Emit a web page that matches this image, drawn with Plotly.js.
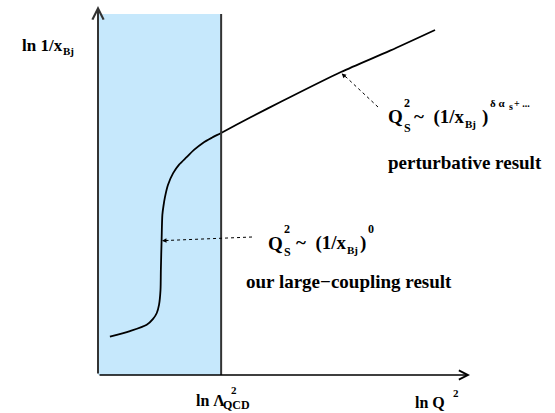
<!DOCTYPE html>
<html>
<head>
<meta charset="utf-8">
<script src="https://cdn.plot.ly/plotly-3.0.1.min.js"></script>
<style>html,body{margin:0;padding:0;background:#fff;}#chart{width:555px;height:413px;}</style>
</head>
<body>
<div id="chart"></div>
<script>
// Schematic saturation-scale curve (arbitrary units: ln Q^2 on x, ln 1/x_Bj on y)
var curveX = [0.32, 0.86, 1.31, 1.48, 1.58, 1.64, 1.68, 1.69, 1.71, 1.73, 1.76, 1.80, 1.88, 2.02, 2.18, 2.39, 2.58, 2.82, 3.06, 3.31, 4.09, 4.89, 6.53, 7.85, 9.06];
var curveY = [1.04, 1.19, 1.36, 1.52, 1.68, 1.90, 2.30, 2.85, 3.66, 4.34, 4.58, 4.82, 5.15, 5.47, 5.70, 5.91, 6.10, 6.29, 6.43, 6.56, 6.98, 7.39, 8.21, 8.79, 9.35];
// Strong-coupling region: from the origin up to ln Lambda_QCD^2
var regionX = [0, 3.31];
var regionTop = 9.78;
var axisMax = [10, 10];

var FONT = 'Liberation Serif, Times New Roman, serif';
var W = 555, H = 413, ML = 98, MR = 85, MT = 6, MB = 38;
var PW = W - ML - MR, PH = H - MT - MB;
function X(px){ return (px - ML) / (PW / axisMax[0]); }
function Y(py){ return (H - MB - py) / (PH / axisMax[1]); }
function XP(px){ return (px - ML) / PW; }
function YP(py){ return (H - MB - py) / PH; }

function lab(text, px, py, size){
  return {text: '<b>' + text + '</b>', x: XP(px), y: YP(py), xref: 'paper', yref: 'paper',
    xanchor: 'left', yanchor: 'middle', showarrow: false,
    font: {family: FONT, size: size, color: '#000'}};
}

var annotations = [
  // axes arrows
  {x: 0, y: axisMax[1], ax: 0, ay: 0, axref: 'x', ayref: 'y', xref: 'x', yref: 'y', text: '',
   showarrow: true, arrowhead: 5, arrowsize: 1.1, arrowwidth: 2, arrowcolor: '#333', standoff: 0},
  {x: axisMax[0], y: 0, ax: 0, ay: 0, axref: 'x', ayref: 'y', xref: 'x', yref: 'y', text: '',
   showarrow: true, arrowhead: 5, arrowsize: 1.2, arrowwidth: 1.5, arrowcolor: '#000', standoff: 0},
  // dotted arrow heads
  {x: curveX[22], y: curveY[22] - 0.02, ax: 6, ay: 5.5, xref: 'x', yref: 'y', text: '', showarrow: true,
   arrowhead: 2, arrowsize: 0.9, arrowwidth: 1, arrowcolor: '#000', standoff: 1},
  {x: X(162), y: Y(240.7), ax: 8, ay: -0.3, xref: 'x', yref: 'y', text: '', showarrow: true,
   arrowhead: 2, arrowsize: 0.9, arrowwidth: 1, arrowcolor: '#000', standoff: 0},
  // y label
  lab('ln 1/x', 20, 45, 17),
  lab('Bj', 61, 51, 11),
  // x labels
  lab('ln \u039b', 194, 400, 16),
  lab('2', 229, 390, 11),
  lab('QCD', 221, 405, 12),
  lab('ln Q', 413, 402, 16),
  lab('2', 451, 393, 11),
  // upper formula
  lab('Q', 386, 117, 19),
  lab('2', 402, 103, 12),
  lab('S', 402, 128, 12),
  lab('~  (1/x', 412, 117, 19),
  lab('Bj', 463, 124, 11),
  lab(')', 480, 117, 19),
  lab('\u03b4 \u03b1', 488, 103, 11),
  lab('s', 507, 106, 10),
  lab('+ ...', 512, 103, 10),
  lab('perturbative result', 386, 162, 19),
  // lower formula
  lab('Q', 266, 243, 19),
  lab('2', 282, 229, 12),
  lab('S', 282, 252, 12),
  lab('~  (1/x', 294, 243, 19),
  lab('Bj', 345, 250, 11),
  lab(')', 358, 243, 19),
  lab('0', 366, 229, 12),
  lab('our large\u2212coupling result', 244, 281, 19)
];

var shapes = [
  {type: 'rect', xref: 'x', yref: 'y', x0: regionX[0], x1: regionX[1], y0: 0, y1: regionTop,
   fillcolor: '#c6e8fc', line: {width: 0}, layer: 'below'},
  {type: 'line', xref: 'x', yref: 'y', x0: regionX[1], x1: regionX[1], y0: 0, y1: regionTop,
   line: {color: '#333', width: 2}},
  {type: 'line', xref: 'x', yref: 'y', x0: X(378), y0: Y(107), x1: curveX[22] + 0.1, y1: curveY[22] - 0.1,
   line: {color: '#000', width: 1, dash: '3px,3px'}},
  {type: 'line', xref: 'x', yref: 'y', x0: X(252), y0: Y(237), x1: X(166), y1: Y(240.5),
   line: {color: '#000', width: 1, dash: '3px,3px'}}
];

var data = [{x: curveX, y: curveY, type: 'scatter', mode: 'lines',
  line: {color: '#000', width: 1.8, shape: 'spline', smoothing: 0.8}, hoverinfo: 'skip'}];

var layout = {
  width: W, height: H, margin: {l: ML, r: MR, t: MT, b: MB, pad: 0},
  paper_bgcolor: '#fff', plot_bgcolor: 'rgba(0,0,0,0)', showlegend: false,
  xaxis: {range: [0, axisMax[0]], visible: false, fixedrange: true},
  yaxis: {range: [0, axisMax[1]], visible: false, fixedrange: true},
  shapes: shapes, annotations: annotations
};

Plotly.newPlot('chart', data, layout, {staticPlot: true, displayModeBar: false});
</script>
</body>
</html>
